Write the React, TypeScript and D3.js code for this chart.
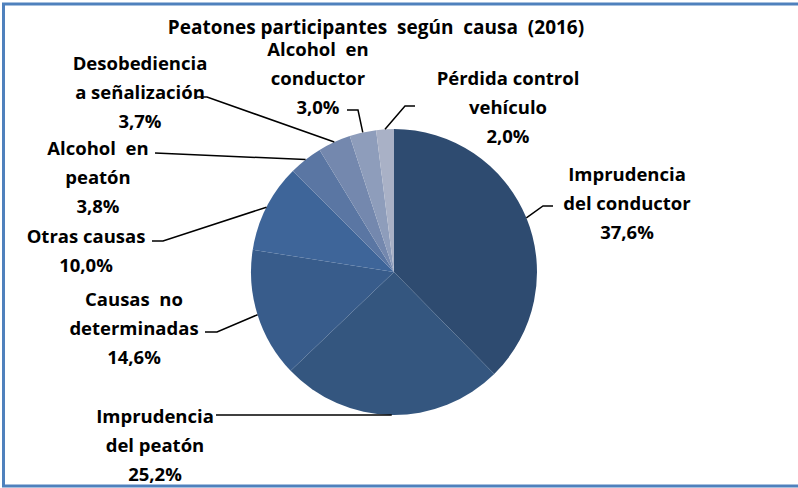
import React from "react";
import * as d3 from "d3";

const categories = [
  "Imprudencia del conductor",
  "Imprudencia del peatón",
  "Causas no determinadas",
  "Otras causas",
  "Alcohol en peatón",
  "Desobediencia a señalización",
  "Alcohol en conductor",
  "Pérdida control vehículo",
];
const values = [37.6, 25.2, 14.6, 10.0, 3.8, 3.7, 3.0, 2.0];
const labelLines = [
  ["Imprudencia", "del conductor"],
  ["Imprudencia", "del peatón"],
  ["Causas  no", "determinadas"],
  ["Otras causas"],
  ["Alcohol  en", "peatón"],
  ["Desobediencia", "a señalización"],
  ["Alcohol  en", "conductor"],
  ["Pérdida control", "vehículo"],
];
const colors = ["#2E4B70", "#34567F", "#385C8B", "#3E6599", "#5A76A3", "#7488AE", "#8E9DBB", "#A9B1C6"];
const title = "Peatones participantes  según  causa  (2016)";

// layout: label text center x, first line y, leader-line end points (elbow, end)
const labelLayout = [
  { x: 627, y: 173, pts: [[543, 206], [553, 206]] },
  { x: 155, y: 415, pts: [[216, 415]] },
  { x: 134, y: 298, pts: [[217, 332], [205, 332]] },
  { x: 86, y: 235, pts: [[163, 241], [152, 241]] },
  { x: 98, y: 147, pts: [[155, 153]] },
  { x: 140, y: 62, pts: [[207, 97], [197, 97]] },
  { x: 318, y: 48, pts: [[358, 110], [347, 110]] },
  { x: 508, y: 77, pts: [[405, 106], [415, 106]] },
];

const W = 798, H = 488;
const cx = 394, cy = 272, R = 143;
const lineH = 29;

export default function App() {
  const pie = d3.pie<number>().sort(null).value((d) => d);
  const arcs = pie(values);
  const arc = d3.arc<d3.PieArcDatum<number>>().innerRadius(0).outerRadius(R);
  const fmt = (v: number) => v.toFixed(1).replace(".", ",") + "%";
  const font = "'Open Sans', sans-serif";
  return (
    <svg width={W} height={H} style={{ position: "absolute", left: 0, top: 0, background: "#fff" }}>
      <rect x={0} y={0} width={W} height={H} fill="#fff" />
      <rect x={3.5} y={4} width={W + 10} height={482} fill="none" stroke="#4F81BD" strokeWidth={3} />
      <text x={376} y={27} textAnchor="middle" dominantBaseline="central" fontFamily={font} fontWeight={700} fontSize={19} fill="#000" style={{ whiteSpace: "pre" }}>
        {title}
      </text>
      <g transform={`translate(${cx},${cy})`}>
        {arcs.map((a, i) => (
          <path key={i} d={arc(a) || ""} fill={colors[i]} />
        ))}
      </g>
      {arcs.map((a, i) => {
        const mid = (a.startAngle + a.endAngle) / 2;
        const p0 = [cx + R * Math.sin(mid), cy - R * Math.cos(mid)];
        const pts = [p0, ...labelLayout[i].pts];
        const line = d3.line()(pts as [number, number][]) || "";
        return <path key={"l" + i} d={line} fill="none" stroke="#000" strokeWidth={1.5} />;
      })}
      {categories.map((c, i) => {
        const L = labelLayout[i];
        const lines = [...labelLines[i], fmt(values[i])];
        return (
          <text key={c} textAnchor="middle" fontFamily={font} fontWeight={700} fontSize={18.5} fill="#000">
            {lines.map((t, j) => (
              <tspan key={j} x={L.x} y={L.y + j * lineH} dominantBaseline="central" style={{ whiteSpace: "pre" }}>
                {t}
              </tspan>
            ))}
          </text>
        );
      })}
    </svg>
  );
}
